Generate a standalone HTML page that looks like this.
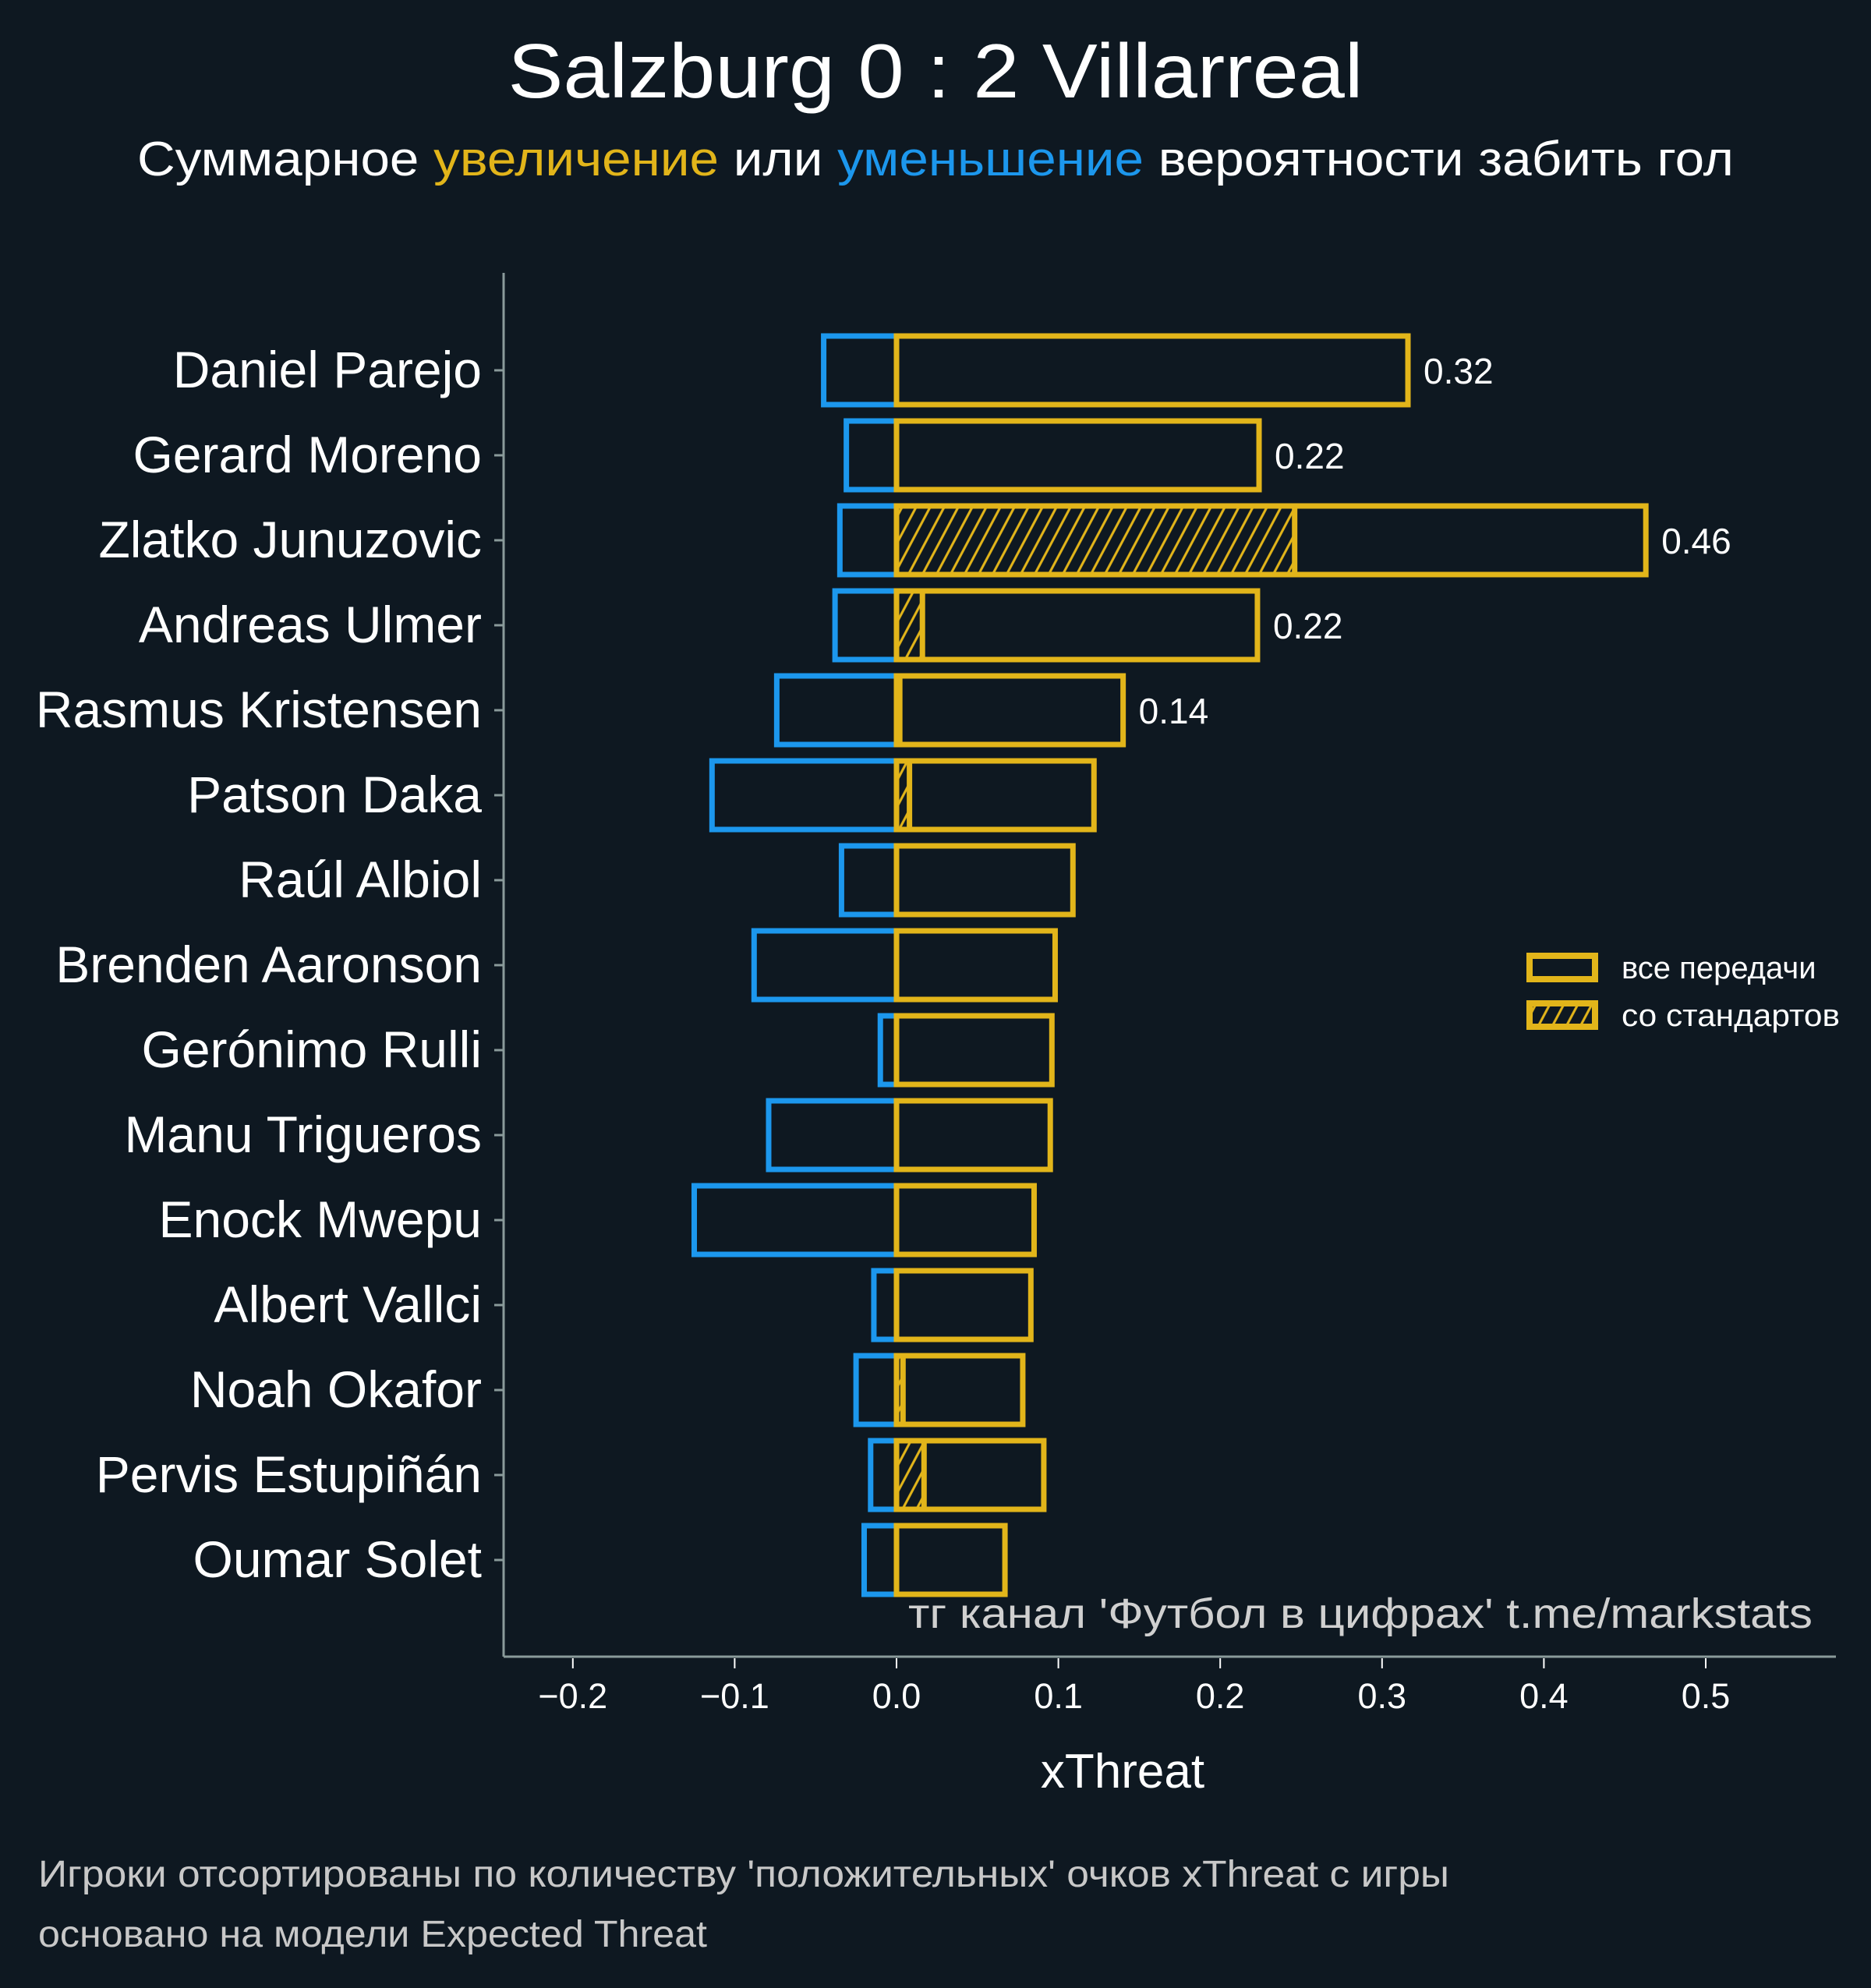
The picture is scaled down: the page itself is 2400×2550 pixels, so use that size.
<!DOCTYPE html>
<html><head><meta charset="utf-8">
<style>
html,body{margin:0;padding:0;background:#0e1821;}
svg{display:block;}
text{font-family:"Liberation Sans","DejaVu Sans",sans-serif;}
</style></head>
<body>
<svg id="chart" width="2400" height="2550" viewBox="0 0 2400 2550" xmlns="http://www.w3.org/2000/svg">
<defs>
<pattern id="hatch" patternUnits="userSpaceOnUse" width="18" height="18" patternTransform="skewX(-28)">
<line x1="9" y1="0" x2="9" y2="18" stroke="#e2b51a" stroke-width="3.5"/>
</pattern>
</defs>
<rect width="2400" height="2550" fill="#0e1821"/>
<text x="1200" y="125" text-anchor="middle" font-size="98" fill="#ffffff" textLength="1097" lengthAdjust="spacingAndGlyphs">Salzburg 0 : 2 Villarreal</text>
<text x="1200" y="225" text-anchor="middle" font-size="62" fill="#ffffff" textLength="2048" lengthAdjust="spacingAndGlyphs">Суммарное <tspan fill="#e2b51a">увеличение</tspan> или <tspan fill="#1c97ed">уменьшение</tspan> вероятности забить гол</text>
<g id="plot"></g>
<line x1="646" y1="350" x2="646" y2="2125" stroke="#8a9a9a" stroke-width="3"/>
<line x1="646" y1="2125" x2="2355" y2="2125" stroke="#8a9a9a" stroke-width="3"/>
<text x="2325" y="2088" text-anchor="end" font-size="54" fill="#d0d0d0" textLength="1160" lengthAdjust="spacingAndGlyphs">тг канал 'Футбол в цифрах'  t.me/markstats</text>
<text x="1440" y="2293" text-anchor="middle" font-size="62" fill="#ffffff">xThreat</text>
<g>
<rect x="1962" y="1226" width="84" height="30" fill="#0e1821" stroke="#e2b51a" stroke-width="8"/>
<text x="2080" y="1255" font-size="40" fill="#ffffff">все передачи</text>
<rect x="1962" y="1287" width="84" height="30" fill="url(#hatch)" stroke="#e2b51a" stroke-width="8"/>
<text x="2080" y="1316" font-size="40" fill="#ffffff" textLength="280" lengthAdjust="spacingAndGlyphs">со стандартов</text>
</g>
<text x="49" y="2420" font-size="48" fill="#c8c8c8" textLength="1810" lengthAdjust="spacingAndGlyphs">Игроки отсортированы по количеству 'положительных' очков xThreat с игры</text>
<text x="49" y="2497" font-size="48" fill="#c8c8c8" textLength="858" lengthAdjust="spacingAndGlyphs">основано на модели Expected Threat</text>
</svg>
<script>
const players = ["Daniel Parejo","Gerard Moreno","Zlatko Junuzovic","Andreas Ulmer","Rasmus Kristensen","Patson Daka","Raúl Albiol","Brenden Aaronson","Gerónimo Rulli","Manu Trigueros","Enock Mwepu","Albert Vallci","Noah Okafor","Pervis Estupiñán","Oumar Solet"];
const positive = [0.316,0.224,0.463,0.223,0.140,0.122,0.109,0.098,0.096,0.095,0.085,0.083,0.078,0.091,0.067];
const negative = [-0.045,-0.031,-0.035,-0.038,-0.074,-0.114,-0.034,-0.088,-0.010,-0.079,-0.125,-0.014,-0.025,-0.016,-0.020];
const setPieces = [0,0,0.246,0.016,0.002,0.008,0,0,0,0,0,0,0.004,0.017,0];
const printedValues = ["0.32","0.22","0.46","0.22","0.14"];
const xTicks = [-0.2,-0.1,0.0,0.1,0.2,0.3,0.4,0.5];
const xTickLabels = ["\u22120.2","\u22120.1","0.0","0.1","0.2","0.3","0.4","0.5"];

const NS="http://www.w3.org/2000/svg";
const plot=document.getElementById('plot');
const X=v=>1150+v*2076;
const Y=i=>475+i*109;
const H=88;
function mk(tag,attrs){const e=document.createElementNS(NS,tag);for(const k in attrs)e.setAttribute(k,attrs[k]);plot.appendChild(e);return e;}

players.forEach((p,i)=>{
  const cy=Y(i);
  let t=mk('text',{x:618,y:cy+22,'text-anchor':'end','font-size':66,fill:'#ffffff'});
  t.textContent=p;
  
  
  let tk=mk('line',{x1:634,y1:cy,x2:646,y2:cy,stroke:'#8a9a9a','stroke-width':3});
  
  
  let nb=mk('rect',{x:X(negative[i]),y:cy-H/2,width:X(0)-X(negative[i]),height:H,fill:'none',stroke:'#1c97ed','stroke-width':7});
  
  
  if(setPieces[i]>0){
    let hb=mk('rect',{x:X(0),y:cy-H/2,width:X(setPieces[i])-X(0),height:H,fill:'url(#hatch)',stroke:'#e2b51a','stroke-width':7});
    
    
  }
  let pb=mk('rect',{x:X(0),y:cy-H/2,width:X(positive[i])-X(0),height:H,fill:'none',stroke:'#e2b51a','stroke-width':7});
  
  
  if(i<printedValues.length){
    let v=mk('text',{x:X(positive[i])+20,y:cy+17,'font-size':46,fill:'#ffffff'});
    v.textContent=printedValues[i];
    
    
  }
});
xTicks.forEach((v,i)=>{
  let l=mk('line',{x1:X(v),y1:2127,x2:X(v),y2:2140,stroke:'#ffffff','stroke-width':2});
  
  
  let t=mk('text',{x:X(v),y:2191,'text-anchor':'middle','font-size':45,fill:'#ffffff'});
  t.textContent=xTickLabels[i];
  
  
});
</script>
</body></html>
